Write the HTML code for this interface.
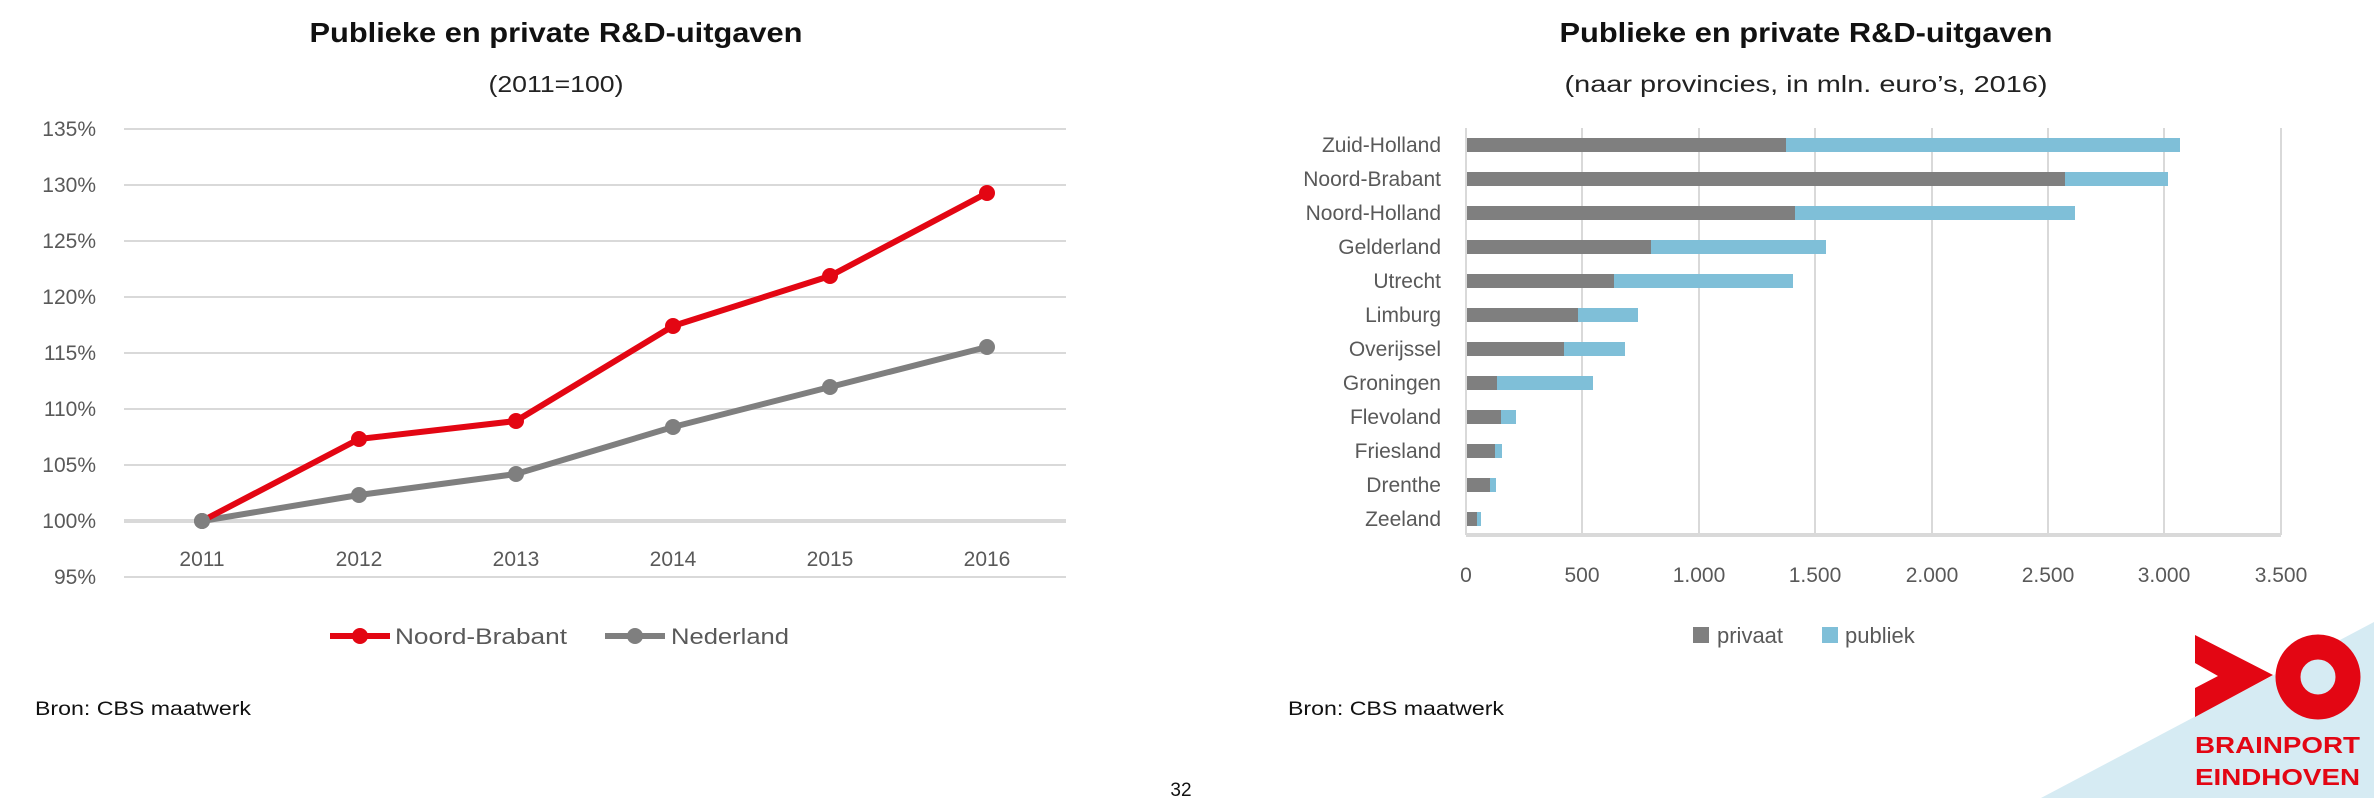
<!DOCTYPE html>
<html><head><meta charset="utf-8"><style>
html,body{margin:0;padding:0;background:#fff;}
svg{display:block;font-family:"Liberation Sans",sans-serif;}
</style></head><body>
<svg width="2374" height="798" viewBox="0 0 2374 798" xmlns="http://www.w3.org/2000/svg">
<!-- LEFT CHART -->
<text x="556" y="42" text-anchor="middle" font-size="28" font-weight="bold" fill="#111" textLength="493" lengthAdjust="spacingAndGlyphs">Publieke en private R&amp;D-uitgaven</text>
<text x="556" y="92" text-anchor="middle" font-size="23" fill="#222" textLength="135" lengthAdjust="spacingAndGlyphs">(2011=100)</text>
<g stroke="#d9d9d9" stroke-width="2">
<line x1="124" x2="1066" y1="129" y2="129"/><line x1="124" x2="1066" y1="185" y2="185"/>
<line x1="124" x2="1066" y1="241" y2="241"/><line x1="124" x2="1066" y1="297" y2="297"/>
<line x1="124" x2="1066" y1="353" y2="353"/><line x1="124" x2="1066" y1="409" y2="409"/>
<line x1="124" x2="1066" y1="465" y2="465"/><line x1="124" x2="1066" y1="577" y2="577"/>
</g>
<line x1="124" x2="1066" y1="521" y2="521" stroke="#d9d9d9" stroke-width="4"/>
<g font-size="21" fill="#595959" text-anchor="end">
<text x="96" y="136">135%</text><text x="96" y="192">130%</text><text x="96" y="248">125%</text>
<text x="96" y="304">120%</text><text x="96" y="360">115%</text><text x="96" y="416">110%</text>
<text x="96" y="472">105%</text><text x="96" y="528">100%</text><text x="96" y="584">95%</text>
</g>
<g font-size="21" fill="#595959" text-anchor="middle">
<text x="202" y="566">2011</text><text x="359" y="566">2012</text><text x="516" y="566">2013</text>
<text x="673" y="566">2014</text><text x="830" y="566">2015</text><text x="987" y="566">2016</text>
</g>
<polyline fill="none" stroke="#7f7f7f" stroke-width="6" stroke-linejoin="round" points="202,521 359,495 516,474 673,427 830,387 987,347"/>
<g fill="#7f7f7f"><circle cx="202" cy="521" r="8"/><circle cx="359" cy="495" r="8"/><circle cx="516" cy="474" r="8"/><circle cx="673" cy="427" r="8"/><circle cx="830" cy="387" r="8"/><circle cx="987" cy="347" r="8"/></g>
<polyline fill="none" stroke="#e30613" stroke-width="6" stroke-linejoin="round" points="202,521 359,439 516,421 673,326 830,276 987,193"/>
<g fill="#e30613"><circle cx="359" cy="439" r="8"/><circle cx="516" cy="421" r="8"/><circle cx="673" cy="326" r="8"/><circle cx="830" cy="276" r="8"/><circle cx="987" cy="193" r="8"/></g>
<circle cx="202" cy="521" r="8" fill="#7f7f7f"/>
<line x1="330" x2="390" y1="636" y2="636" stroke="#e30613" stroke-width="6"/><circle cx="360" cy="636" r="8" fill="#e30613"/>
<text x="395" y="644" font-size="22" fill="#595959" textLength="172" lengthAdjust="spacingAndGlyphs">Noord-Brabant</text>
<line x1="605" x2="665" y1="636" y2="636" stroke="#7f7f7f" stroke-width="6"/><circle cx="635" cy="636" r="8" fill="#7f7f7f"/>
<text x="671" y="644" font-size="22" fill="#595959" textLength="118" lengthAdjust="spacingAndGlyphs">Nederland</text>
<text x="35" y="715" font-size="19" fill="#111" textLength="216" lengthAdjust="spacingAndGlyphs">Bron: CBS maatwerk</text>

<!-- RIGHT CHART -->
<text x="1806" y="42" text-anchor="middle" font-size="28" font-weight="bold" fill="#111" textLength="493" lengthAdjust="spacingAndGlyphs">Publieke en private R&amp;D-uitgaven</text>
<text x="1806" y="92" text-anchor="middle" font-size="23" fill="#222" textLength="483" lengthAdjust="spacingAndGlyphs">(naar provincies, in mln. euro’s, 2016)</text>
<g stroke="#d9d9d9" stroke-width="2">
<line x1="1582" x2="1582" y1="128" y2="535"/><line x1="1699" x2="1699" y1="128" y2="535"/>
<line x1="1815" x2="1815" y1="128" y2="535"/><line x1="1932" x2="1932" y1="128" y2="535"/>
<line x1="2048" x2="2048" y1="128" y2="535"/><line x1="2164" x2="2164" y1="128" y2="535"/>
<line x1="2281" x2="2281" y1="128" y2="535"/>
</g>
<line x1="1466" x2="2281" y1="535" y2="535" stroke="#d9d9d9" stroke-width="4"/>
<line x1="1466" x2="1466" y1="128" y2="535" stroke="#d9d9d9" stroke-width="2"/>
<g font-size="21" fill="#595959" text-anchor="middle">
<text x="1466" y="582">0</text><text x="1582" y="582">500</text><text x="1699" y="582">1.000</text>
<text x="1815" y="582">1.500</text><text x="1932" y="582">2.000</text><text x="2048" y="582">2.500</text>
<text x="2164" y="582">3.000</text><text x="2281" y="582">3.500</text>
</g>
<g font-size="21" fill="#595959" text-anchor="end">
<text x="1441" y="152">Zuid-Holland</text><text x="1441" y="186">Noord-Brabant</text><text x="1441" y="220">Noord-Holland</text>
<text x="1441" y="254">Gelderland</text><text x="1441" y="288">Utrecht</text><text x="1441" y="322">Limburg</text>
<text x="1441" y="356">Overijssel</text><text x="1441" y="390">Groningen</text><text x="1441" y="424">Flevoland</text>
<text x="1441" y="458">Friesland</text><text x="1441" y="492">Drenthe</text><text x="1441" y="526">Zeeland</text>
</g>
<g fill="#7fbfd8">
<rect x="1467" y="138" width="713" height="14"/><rect x="1467" y="172" width="701" height="14"/>
<rect x="1467" y="206" width="608" height="14"/><rect x="1467" y="240" width="359" height="14"/>
<rect x="1467" y="274" width="326" height="14"/><rect x="1467" y="308" width="171" height="14"/>
<rect x="1467" y="342" width="158" height="14"/><rect x="1467" y="376" width="126" height="14"/>
<rect x="1467" y="410" width="49" height="14"/><rect x="1467" y="444" width="35" height="14"/>
<rect x="1467" y="478" width="29" height="14"/><rect x="1467" y="512" width="14" height="14"/>
</g>
<g fill="#7f7f7f">
<rect x="1467" y="138" width="319" height="14"/><rect x="1467" y="172" width="598" height="14"/>
<rect x="1467" y="206" width="328" height="14"/><rect x="1467" y="240" width="184" height="14"/>
<rect x="1467" y="274" width="147" height="14"/><rect x="1467" y="308" width="111" height="14"/>
<rect x="1467" y="342" width="97" height="14"/><rect x="1467" y="376" width="30" height="14"/>
<rect x="1467" y="410" width="34" height="14"/><rect x="1467" y="444" width="28" height="14"/>
<rect x="1467" y="478" width="23" height="14"/><rect x="1467" y="512" width="10" height="14"/>
</g>
<rect x="1693" y="627" width="16" height="16" fill="#7f7f7f"/>
<text x="1717" y="643" font-size="22" fill="#595959">privaat</text>
<rect x="1822" y="627" width="16" height="16" fill="#7fbfd8"/>
<text x="1845" y="643" font-size="22" fill="#595959">publiek</text>
<text x="1288" y="715" font-size="19" fill="#111" textLength="216" lengthAdjust="spacingAndGlyphs">Bron: CBS maatwerk</text>

<text x="1181" y="796" font-size="19" fill="#111" text-anchor="middle">32</text>

<!-- LOGO -->
<polygon points="2041,798 2374,622 2374,798" fill="#d6ebf3"/>
<polygon points="2195,635 2273,675 2195,717 2195,688 2218,676 2195,663" fill="#e30613"/>
<circle cx="2318" cy="677" r="30" fill="none" stroke="#e30613" stroke-width="25"/>
<text x="2195" y="753" font-size="23" font-weight="bold" fill="#e30613" textLength="165" lengthAdjust="spacingAndGlyphs">BRAINPORT</text>
<text x="2195" y="785" font-size="23" font-weight="bold" fill="#e30613" textLength="165" lengthAdjust="spacingAndGlyphs">EINDHOVEN</text>
</svg>
</body></html>
